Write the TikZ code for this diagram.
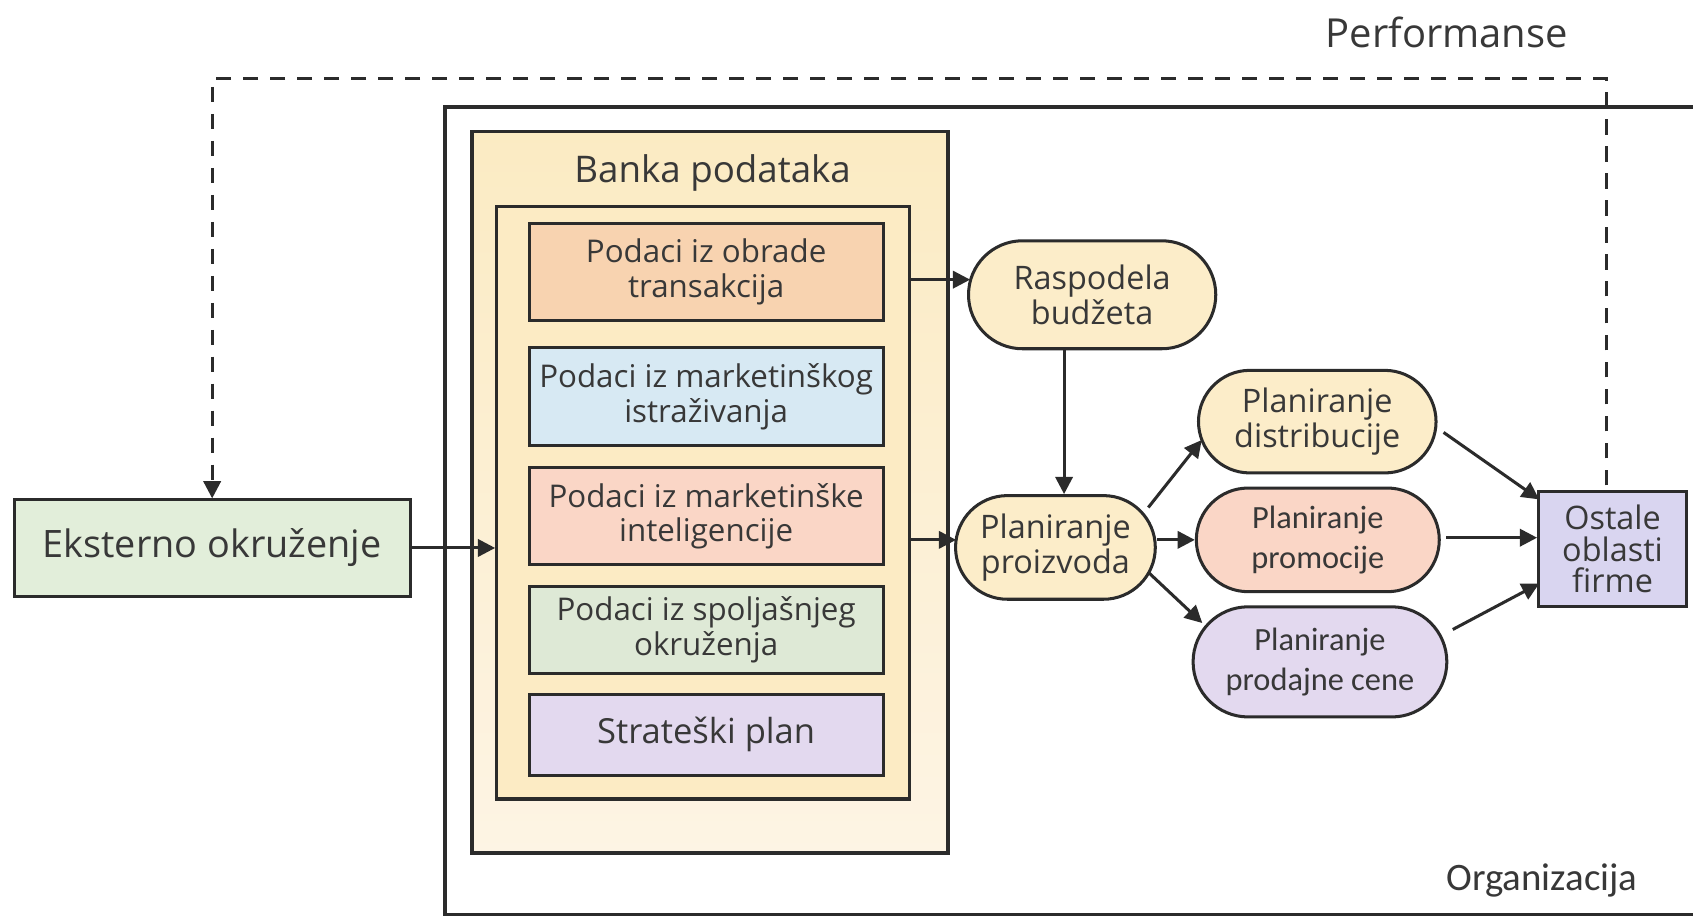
\documentclass[tikz,border=0pt]{standalone}
\usepackage{fontspec}
\setmainfont{Open Sans}
\newfontfamily\carlfont{Carlito}
\usetikzlibrary{arrows.meta,shapes.misc,calc}
\definecolor{ln}{HTML}{2B2B2B}
\definecolor{txt}{HTML}{383838}
\definecolor{bankTop}{HTML}{FBEBC3}
\definecolor{bankBot}{HTML}{FDF4E4}
\definecolor{innerFill}{HTML}{FCEBC4}
\definecolor{cPeach}{HTML}{F8D3B0}
\definecolor{cBlue}{HTML}{D7E9F3}
\definecolor{cSalmon}{HTML}{FAD6C6}
\definecolor{cGreen}{HTML}{DEE9D6}
\definecolor{cLav}{HTML}{E3D9EF}
\definecolor{cEks}{HTML}{E2EEDA}
\definecolor{cYel}{HTML}{FCEDC9}
\definecolor{cOst}{HTML}{D9D5F0}
\begin{document}
\begin{tikzpicture}[x=1pt,y=-1pt,
  every node/.style={text=txt, align=center, font=\fontsize{29}{32}\selectfont},
  box/.style={draw=ln, line width=2.8pt, rectangle, inner sep=0pt},
  pill/.style={draw=ln, line width=2.8pt, rounded rectangle, inner sep=0pt, font=\fontsize{30}{32}\selectfont},
  arr/.style={draw=ln, line width=2.8pt, -{Triangle[length=16pt,width=16pt]}},
  fb/.style={draw=ln, line width=2.8pt, dash pattern=on 14pt off 11pt},
  carl/.style={font=\carlfont\fontsize{30}{37}\selectfont}
]
\useasboundingbox (0,0) rectangle (1568,849);
\fill[white] (0,0) rectangle (1568,849);

% Organizacija frame (open to the right)
\draw[ln, line width=3.2pt] (1600,99) -- (412,99) -- (412,847) -- (1600,847);
\node[font=\carlfont\fontsize{36}{40}\selectfont] (org) at (1428,815) {Organizacija};
\node[font=\fontsize{37}{40}\selectfont] (perf) at (1340,30) {Performanse};

% Banka podataka
\node[box, line width=3.2pt, top color=bankTop, bottom color=bankBot, minimum width=441, minimum height=668] (bank) at (657.5,456) {};
\node[font=\fontsize{34}{38}\selectfont] (banktitle) at (660,160) {Banka podataka};
\node[box, fill=innerFill, minimum width=382, minimum height=549] (inner) at (651,465.5) {};

\node[box, fill=cPeach, minimum width=328, minimum height=90] (d1) at (654,252) {Podaci iz obrade\\transakcija};
\node[box, fill=cBlue, minimum width=328, minimum height=91] (d2) at (654,367.5) {Podaci iz marketinškog\\istraživanja};
\node[box, fill=cSalmon, minimum width=328, minimum height=90] (d3) at (654,478) {Podaci iz marketinške\\inteligencije};
\node[box, fill=cGreen, minimum width=328, minimum height=81] (d4) at (654,583.5) {Podaci iz spoljašnjeg\\okruženja};
\node[box, fill=cLav, minimum width=328, minimum height=75, font=\fontsize{32}{35}\selectfont] (d5) at (654,680.5) {Strateški plan};

% Eksterno okruzenje
\node[box, fill=cEks, minimum width=367, minimum height=89, font=\fontsize{35}{38}\selectfont] (eks) at (196.5,507.5) {Eksterno okruženje};

% Planning nodes
\node[pill, fill=cYel, minimum width=229, minimum height=100] (rasp) at (1011.5,273) {Raspodela\\budžeta};
\node[pill, fill=cYel, minimum width=185, minimum height=96] (proiz) at (977.5,507) {Planiranje\\proizvoda};
\node[pill, fill=cYel, minimum width=220, minimum height=95] (dist) at (1220,390.5) {Planiranje\\distribucije};
\node[pill, fill=cSalmon, minimum width=225, minimum height=96, carl] (promo) at (1220.5,500) {Planiranje\\promocije};
\node[pill, fill=cLav, minimum width=235, minimum height=102, carl] (prod) at (1222.5,613) {Planiranje\\prodajne cene};
\node[box, fill=cOst, minimum width=137, minimum height=107, font=\fontsize{30}{29}\selectfont] (ost) at (1493.5,508.5) {Ostale\\oblasti\\firme};

% Feedback dashed loop
\coordinate (fbtop) at (800,73);
\coordinate (ostTop) at ($(ost.north)+(-6,-4)$);
\draw[fb, -{Triangle[length=16pt,width=16pt]}] (ostTop) |- (fbtop) -| (eks.north);

% Connectors
\draw[arr] (eks.east) -- (eks.east -| inner.west);
\coordinate (raspIn) at ($(rasp.center)+(-113,-14)$);
\draw[arr] (inner.east |- raspIn) -- (raspIn);
\coordinate (proizIn) at ($(proiz.center)+(-92,-7)$);
\draw[arr] (inner.east |- proizIn) -- (proizIn);
\coordinate (proizTop) at ($(proiz.north)+(8,0)$);
\draw[arr] (rasp.south -| proizTop) -- (proizTop);

\draw[arr] ($(proiz.center)+(86,-37)$) -- ($(dist.center)+(-107,17)$);
\draw[arr] (proiz.east |- promo.west) -- (promo.west);
\draw[arr] ($(proiz.center)+(86,23)$) -- ($(prod.center)+(-109,-36)$);

\draw[arr] ($(dist.center)+(117,10)$) -- ($(ost.center)+(-68,-46)$);
\draw[arr] ($(promo.east)+(5,-2)$) -- (ost.west |- 0,498);
\draw[arr] ($(prod.center)+(123,-30)$) -- ($(ost.center)+(-68,32)$);
\end{tikzpicture}
\end{document}
